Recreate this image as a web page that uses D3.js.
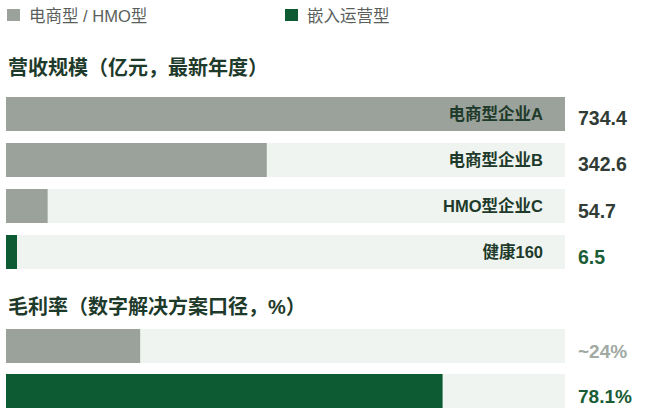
<!DOCTYPE html>
<html>
<head>
<meta charset="utf-8">
<script src="https://cdn.jsdelivr.net/npm/d3@7"></script>
<style>
  html, body { margin: 0; padding: 0; background: #ffffff; }
  svg { display: block; }
  text { font-family: "Liberation Sans", Arial, "Noto Sans CJK SC", sans-serif; }
</style>
</head>
<body>
<svg id="chart" width="650" height="419"></svg>
<script>
// ---- data ----
const legendLabels = ["电商型 / HMO型", "嵌入运营型"];
const legendTypes = ["ecom", "embed"];

const revenueTitle = "营收规模（亿元，最新年度）";
const revenueCats = ["电商型企业A", "电商型企业B", "HMO型企业C", "健康160"];
const revenueVals = [734.4, 342.6, 54.7, 6.5];
const revenueLabels = ["734.4", "342.6", "54.7", "6.5"];
const revenueTypes = ["ecom", "ecom", "ecom", "embed"];

const marginTitle = "毛利率（数字解决方案口径，%）";
const marginCats = ["电商型 / HMO型", "健康160"];
const marginVals = [24, 78.1];
const marginLabels = ["~24%", "78.1%"];
const marginTypes = ["ecom", "embed"];

// ---- styles ----
const colors = { ecom: "#9aa29b", embed: "#0c5b33" };
const valueColorsRev = { ecom: "#323c36", embed: "#1a5c35" };
const valueColorsMargin = { ecom: "#a2aaa4", embed: "#1a5c35" };
const trackColor = "#eff4f0";
const titleColor = "#1e3a2a";

const svg = d3.select("#chart");

// ---- legend ----
const legendX = [7, 285];
legendLabels.forEach((lab, i) => {
  svg.append("rect").attr("x", legendX[i]).attr("y", 9).attr("width", 13).attr("height", 12)
    .attr("fill", colors[legendTypes[i]]);
  svg.append("text").attr("x", legendX[i] + 22).attr("y", 22)
    .attr("font-size", 16.5).attr("fill", "#5a5f5c").text(lab);
});

// ---- scales ----
const xRev = d3.scaleLinear().domain([0, d3.max(revenueVals)]).range([6, 565]);
const yRev = d3.scaleBand().domain(revenueCats).range([97, 269]).paddingInner(0.261).paddingOuter(0);
const xMar = d3.scaleLinear().domain([0, 100]).range([6, 565]);
const yMar = d3.scaleBand().domain(marginCats).range([329, 408]).paddingInner(0.244).paddingOuter(0);

// ---- revenue section ----
svg.append("text").attr("x", 8).attr("y", 75)
  .attr("font-size", 20).attr("font-weight", 700).attr("fill", titleColor)
  .text(revenueTitle);

const revG = svg.append("g");
revenueCats.forEach((cat, i) => {
  const y = yRev(cat), h = yRev.bandwidth();
  revG.append("rect").attr("x", xRev.range()[0]).attr("y", y)
    .attr("width", xRev.range()[1] - xRev.range()[0]).attr("height", h)
    .attr("fill", trackColor);
  revG.append("rect").attr("x", xRev(0)).attr("y", y)
    .attr("width", Math.max(xRev(revenueVals[i]) - xRev(0), 11)).attr("height", h)
    .attr("fill", colors[revenueTypes[i]]);
  revG.append("text").attr("x", 543).attr("y", y + h / 2 + 6)
    .attr("text-anchor", "end").attr("font-size", 16.5).attr("font-weight", 700)
    .attr("fill", titleColor).text(cat);
  revG.append("text").attr("x", 578).attr("y", y + h / 2 + 11.5)
    .attr("font-size", 19.5).attr("font-weight", 700)
    .attr("fill", valueColorsRev[revenueTypes[i]]).text(revenueLabels[i]);
});

// ---- margin section ----
svg.append("text").attr("x", 8).attr("y", 314)
  .attr("font-size", 20).attr("font-weight", 700).attr("fill", titleColor)
  .text(marginTitle);

const marG = svg.append("g");
marginCats.forEach((cat, i) => {
  const y = yMar(cat), h = yMar.bandwidth();
  marG.append("rect").attr("x", xMar.range()[0]).attr("y", y)
    .attr("width", xMar.range()[1] - xMar.range()[0]).attr("height", h)
    .attr("fill", trackColor);
  marG.append("rect").attr("x", xMar(0)).attr("y", y)
    .attr("width", xMar(marginVals[i]) - xMar(0)).attr("height", h)
    .attr("fill", colors[marginTypes[i]]);
  marG.append("text").attr("x", 578).attr("y", y + h / 2 + 12)
    .attr("font-size", 19).attr("font-weight", 700)
    .attr("fill", valueColorsMargin[marginTypes[i]]).text(marginLabels[i]);
});
</script>
</body>
</html>
